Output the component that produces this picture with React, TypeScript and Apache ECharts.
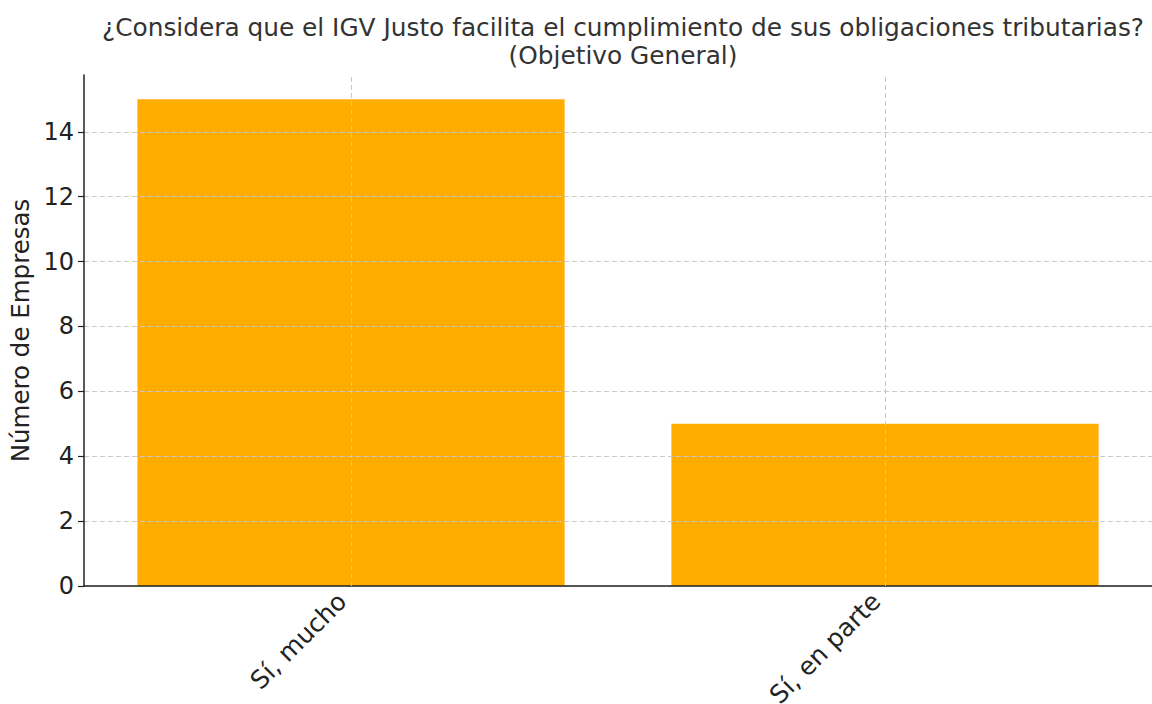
import React, { useEffect, useRef } from "react";
import * as echarts from "echarts";

const categories = ["Sí, mucho", "Sí, en parte"];
const values = [15, 5];
const yTicks = [0, 2, 4, 6, 8, 10, 12, 14];
const titleLines = [
  "¿Considera que el IGV Justo facilita el cumplimiento de sus obligaciones tributarias?",
  "(Objetivo General)",
];
const yName = "Número de Empresas";

const FONT = "DejaVu Sans";

export default function App() {
  const ref = useRef<HTMLDivElement>(null);
  useEffect(() => {
    if (!ref.current) return;
    const chart = echarts.init(ref.current, null, { renderer: "svg" });
    chart.setOption({
      animation: false,
      backgroundColor: "#ffffff",
      title: {
        text: titleLines.join("\n"),
        left: 618,
        textAlign: "center",
        top: 8,
        textStyle: {
          fontFamily: FONT,
          fontSize: 24.8,
          fontWeight: "normal",
          color: "#333333",
          lineHeight: 28,
        },
      },
      grid: { left: 84, right: 0, top: 75, bottom: 118, containLabel: false, outerBoundsMode: "none" },
      xAxis: {
        type: "category",
        data: categories,
        z: 5,
        axisLine: { lineStyle: { color: "#222222", width: 1.5 } },
        axisTick: { alignWithLabel: true, length: 6, lineStyle: { color: "#222222", width: 1.2 } },
        axisLabel: {
          rotate: 45,
          margin: 20,
          verticalAlign: "bottom",
          fontFamily: FONT,
          fontSize: 25,
          color: "#222222",
        },
        splitLine: { show: false },
      },
      yAxis: {
        type: "value",
        min: 0,
        max: 15.75,
        interval: 2,
        z: 5,
        name: yName,
        nameLocation: "middle",
        nameGap: 50,
        nameTextStyle: { fontFamily: FONT, fontSize: 24.5, color: "#222222" },
        axisLine: { show: true, lineStyle: { color: "#222222", width: 1.5 } },
        axisTick: { show: true, length: 6, lineStyle: { color: "#222222", width: 1.2 }, customValues: yTicks },
        axisLabel: {
          fontFamily: FONT,
          fontSize: 24,
          color: "#222222",
          margin: 10,
          customValues: yTicks,
        },
        splitLine: {
          show: true,
          lineStyle: { color: "#c8c8c8", type: [5, 3], width: 1 },
        },
      },
      series: [
        {
          type: "bar",
          data: values,
          barWidth: "80%",
          itemStyle: { color: "#FFAE00" },
          z: 2,
          markLine: {
            silent: true,
            symbol: "none",
            label: { show: false },
            z: 6,
            lineStyle: { color: "#c8c8c8", type: [5, 3], width: 1 },
            data: categories.map((c) => ({ xAxis: c })),
          },
        },
      ],
    });
    return () => chart.dispose();
  }, []);
  return <div ref={ref} style={{ width: 1152, height: 704, position: "absolute", left: 0, top: 0 }} />;
}
